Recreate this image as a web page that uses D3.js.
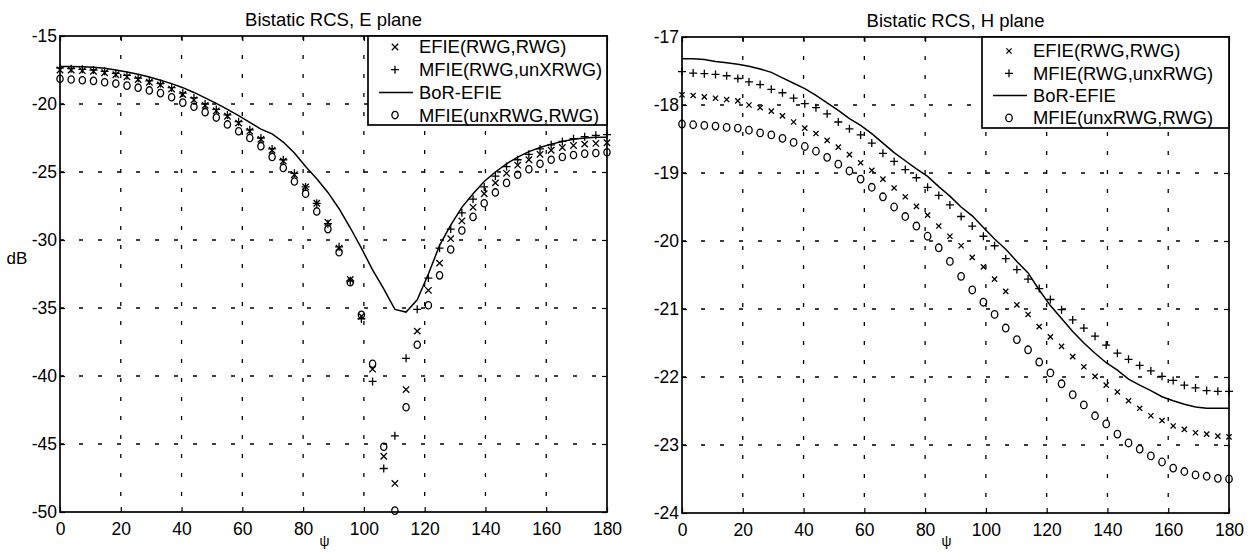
<!DOCTYPE html>
<html><head><meta charset="utf-8">
<script src="https://cdn.jsdelivr.net/npm/d3@7/dist/d3.min.js"></script>
<style>
body{margin:0;background:#fff}
text{font-family:"Liberation Sans",Arial,Helvetica,sans-serif;fill:#000}
</style>
</head><body>
<svg id="c" width="1259" height="552"></svg>
<script>
// ---------- data ----------
const angles = [0,3.67,7.35,11.02,14.69,18.37,22.04,25.71,29.39,33.06,36.73,40.41,44.08,47.76,51.43,55.10,58.78,62.45,66.12,69.80,73.47,77.14,80.82,84.49,88.16,91.84,95.51,99.18,102.86,106.53,110.20,113.88,117.55,121.22,124.90,128.57,132.24,135.92,139.59,143.27,146.94,150.61,154.29,157.96,161.63,165.31,168.98,172.65,176.33,180];

// E plane
const eBoR   = [-17.25,-17.25,-17.27,-17.3,-17.38,-17.5,-17.65,-17.82,-18.02,-18.25,-18.5,-18.8,-19.15,-19.55,-19.95,-20.4,-20.85,-21.35,-21.85,-22.2,-22.8,-23.6,-24.6,-25.5,-26.5,-27.7,-29.1,-30.6,-32.2,-33.6,-35.1,-35.3,-34.4,-32.5,-30.4,-28.9,-27.6,-26.6,-25.7,-25.0,-24.4,-23.9,-23.5,-23.2,-22.95,-22.75,-22.6,-22.5,-22.45,-22.45];
const eEFIE  = [-17.5,-17.5,-17.55,-17.6,-17.7,-17.85,-18.0,-18.2,-18.4,-18.6,-18.9,-19.3,-19.7,-20.1,-20.5,-20.9,-21.4,-22.0,-22.6,-23.4,-24.2,-25.2,-26.1,-27.3,-28.7,-30.6,-32.9,-35.6,-39.5,-45.9,-47.9,-41.0,-36.7,-33.7,-31.7,-29.9,-28.6,-27.6,-26.6,-25.8,-25.1,-24.5,-24.1,-23.7,-23.4,-23.2,-23.05,-22.95,-22.9,-22.85];
const eMFIEa = [-17.35,-17.4,-17.45,-17.5,-17.6,-17.75,-17.9,-18.1,-18.3,-18.5,-18.8,-19.2,-19.55,-20.0,-20.4,-20.8,-21.3,-21.9,-22.5,-23.3,-24.1,-25.1,-26.1,-27.3,-28.8,-30.5,-33.0,-35.8,-40.4,-46.8,-44.4,-38.7,-35.1,-32.8,-30.6,-29.2,-28.0,-27.0,-26.1,-25.3,-24.6,-24.1,-23.7,-23.3,-23.0,-22.75,-22.55,-22.4,-22.3,-22.25];
const eMFIEb = [-18.15,-18.2,-18.25,-18.3,-18.4,-18.5,-18.65,-18.8,-19.0,-19.2,-19.5,-19.9,-20.2,-20.6,-21.0,-21.5,-22.0,-22.5,-23.1,-23.9,-24.7,-25.7,-26.6,-27.9,-29.2,-30.9,-33.1,-35.5,-39.1,-45.2,-49.9,-42.3,-37.7,-34.8,-32.6,-30.7,-29.3,-28.3,-27.3,-26.5,-25.8,-25.2,-24.8,-24.4,-24.1,-23.9,-23.75,-23.65,-23.6,-23.55];

// H plane
const hBoR   = [-17.32,-17.32,-17.33,-17.36,-17.38,-17.4,-17.43,-17.47,-17.52,-17.6,-17.68,-17.76,-17.86,-17.97,-18.08,-18.2,-18.3,-18.42,-18.56,-18.7,-18.82,-18.94,-19.05,-19.2,-19.34,-19.5,-19.63,-19.8,-19.97,-20.12,-20.3,-20.47,-20.72,-20.95,-21.14,-21.33,-21.5,-21.65,-21.79,-21.9,-22.03,-22.12,-22.2,-22.29,-22.35,-22.4,-22.44,-22.46,-22.46,-22.46];
const hEFIE  = [-17.85,-17.86,-17.88,-17.9,-17.92,-17.94,-18.0,-18.04,-18.09,-18.16,-18.25,-18.34,-18.42,-18.52,-18.62,-18.73,-18.85,-18.96,-19.09,-19.22,-19.35,-19.49,-19.62,-19.78,-19.93,-20.07,-20.24,-20.38,-20.56,-20.74,-20.94,-21.08,-21.26,-21.41,-21.55,-21.7,-21.85,-21.99,-22.12,-22.22,-22.35,-22.46,-22.57,-22.64,-22.72,-22.77,-22.82,-22.84,-22.87,-22.88];
const hMFIEa = [-17.51,-17.53,-17.54,-17.55,-17.57,-17.61,-17.66,-17.7,-17.77,-17.82,-17.9,-17.98,-18.04,-18.13,-18.25,-18.35,-18.44,-18.56,-18.71,-18.83,-18.95,-19.07,-19.21,-19.33,-19.47,-19.64,-19.78,-19.93,-20.07,-20.26,-20.42,-20.56,-20.7,-20.86,-21.01,-21.16,-21.28,-21.4,-21.53,-21.65,-21.74,-21.83,-21.91,-21.99,-22.05,-22.12,-22.16,-22.2,-22.21,-22.21];
const hMFIEb = [-18.28,-18.29,-18.3,-18.31,-18.33,-18.34,-18.37,-18.41,-18.44,-18.49,-18.55,-18.61,-18.68,-18.77,-18.87,-18.97,-19.09,-19.21,-19.35,-19.5,-19.64,-19.78,-19.93,-20.1,-20.3,-20.52,-20.72,-20.9,-21.08,-21.28,-21.45,-21.6,-21.78,-21.94,-22.1,-22.26,-22.41,-22.57,-22.69,-22.84,-22.97,-23.06,-23.16,-23.25,-23.34,-23.39,-23.44,-23.46,-23.49,-23.5];

const xTicks  = [0,20,40,60,80,100,120,140,160,180];
const eYTicks = [-15,-20,-25,-30,-35,-40,-45,-50];
const hYTicks = [-17,-18,-19,-20,-21,-22,-23,-24];
const eLegend = ["EFIE(RWG,RWG)","MFIE(RWG,unXRWG)","BoR-EFIE","MFIE(unxRWG,RWG)"];
const hLegend = ["EFIE(RWG,RWG)","MFIE(RWG,unxRWG)","BoR-EFIE","MFIE(unxRWG,RWG)"];
const titles  = ["Bistatic RCS, E plane","Bistatic RCS, H plane"];

// ---------- drawing ----------
const svg = d3.select('#c');
const FS_TICK = 17.5, FS_LEG = 18.4, FS_TITLE = 18.5;
const plain = d => String(d);   // hyphen-minus like the original

function marker(sel, type, s) {
  if (type === 'x') {
    sel.append('path').attr('d', `M${-s},${-s}L${s},${s}M${-s},${s}L${s},${-s}`)
      .attr('stroke','#000').attr('stroke-width',1.3).attr('fill','none');
  } else if (type === '+') {
    sel.append('path').attr('d', `M${-s-0.5},0L${s+0.5},0M0,${-s-0.5}L0,${s+0.5}`)
      .attr('stroke','#000').attr('stroke-width',1.3).attr('fill','none');
  } else {
    sel.append('ellipse').attr('rx',s*0.92).attr('ry',s*1.08)
      .attr('stroke','#000').attr('stroke-width',1.3).attr('fill','none');
  }
}

function panel(o) {
  const x = d3.scaleLinear().domain([0,180]).range([o.x0,o.x1]);
  const y = d3.scaleLinear().domain([o.ymin,o.ymax]).range([o.y1,o.y0]);
  const g = svg.append('g');

  // grid
  g.append('g').selectAll('line').data(xTicks.slice(1,-1)).join('line')
    .attr('x1',d=>x(d)).attr('x2',d=>x(d)).attr('y1',o.y0).attr('y2',o.y1)
    .attr('stroke','#000').attr('stroke-width',1.3).attr('stroke-dasharray','4,15');
  g.append('g').selectAll('line').data(o.yTicks.slice(1,-1)).join('line')
    .attr('x1',o.x0).attr('x2',o.x1).attr('y1',d=>y(d)).attr('y2',d=>y(d))
    .attr('stroke','#000').attr('stroke-width',1.3).attr('stroke-dasharray','4,15');

  // line series
  const line = d3.line().x((d,i)=>x(angles[i])).y(d=>y(d));
  g.append('path').datum(o.bor).attr('d',line)
    .attr('fill','none').attr('stroke','#000').attr('stroke-width',1.5);

  // marker series
  const series = [[o.efie,'x',o.ms[0]],[o.mfa,'+',o.ms[1]],[o.mfb,'o',o.ms[2]]];
  series.forEach(([vals,type,s])=>{
    g.append('g').selectAll('g').data(vals).join('g')
      .attr('transform',(d,i)=>`translate(${x(angles[i])},${y(d)})`)
      .each(function(){ marker(d3.select(this), type, s); });
  });

  // axes (ticks inward)
  const ax = (gen, tr) => {
    const a = g.append('g').attr('transform',tr).call(gen);
    a.select('.domain').remove();
    a.selectAll('line').attr('stroke','#000').attr('stroke-width',1.2);
    a.selectAll('text').style('font-size',FS_TICK+'px').style('font-family','"Liberation Sans",Arial,sans-serif');
    return a;
  };
  ax(d3.axisBottom(x).tickValues(xTicks).tickFormat(plain).tickSizeInner(-5).tickSizeOuter(0).tickPadding(11), `translate(0,${o.y1})`);
  ax(d3.axisTop(x).tickValues(xTicks).tickFormat('').tickSizeInner(-5).tickSizeOuter(0), `translate(0,${o.y0})`);
  ax(d3.axisLeft(y).tickValues(o.yTicks).tickFormat(plain).tickSizeInner(-5).tickSizeOuter(0).tickPadding(3), `translate(${o.x0},0)`);
  ax(d3.axisRight(y).tickValues(o.yTicks).tickFormat('').tickSizeInner(-5).tickSizeOuter(0), `translate(${o.x1},0)`);

  // frame
  g.append('rect').attr('x',o.x0).attr('y',o.y0).attr('width',o.x1-o.x0).attr('height',o.y1-o.y0)
    .attr('fill','none').attr('stroke','#000').attr('stroke-width',1.7);

  // legend
  const L = o.leg;
  const lg = g.append('g');
  lg.append('rect').attr('x',L.x).attr('y',o.y0).attr('width',o.x1-L.x).attr('height',L.h)
    .attr('fill','#fff').attr('stroke','#000').attr('stroke-width',1.7);
  const types = ['x','+','line','o'];
  const ms = [o.ms[0],o.ms[1],0,o.ms[2]];
  o.labels.forEach((lab,i)=>{
    const cy = o.y0 + L.first + i*L.step;
    const mx = L.x + L.mk;
    if (types[i]==='line') {
      lg.append('line').attr('x1',L.x+L.mk-16).attr('x2',L.x+L.mk+18).attr('y1',cy).attr('y2',cy)
        .attr('stroke','#000').attr('stroke-width',1.5);
    } else {
      const mg = lg.append('g').attr('transform',`translate(${mx},${cy})`);
      marker(mg, types[i], ms[i]);
    }
    lg.append('text').attr('x',L.x+L.tx).attr('y',cy).attr('dy','0.35em')
      .style('font-size',FS_LEG+'px').text(lab);
  });

  // title and axis labels
  g.append('text').attr('x',(o.x0+o.x1)/2).attr('y',o.y0-16).attr('dy','0.35em')
    .attr('text-anchor','middle').style('font-size',FS_TITLE+'px').text(o.title);
  g.append('text').attr('x',x(87)).attr('y',546)
    .attr('text-anchor','middle').style('font-size','14px').text('ψ');
  if (o.ylabel) {
    g.append('text').attr('x',o.x0-43).attr('y',y(-31.3)).attr('dy','0.35em')
      .attr('text-anchor','middle').style('font-size','17px').text(o.ylabel);
  }
}

panel({x0:60,x1:607,y0:36,y1:512,ymin:-50,ymax:-15,yTicks:eYTicks,
  bor:eBoR,efie:eEFIE,mfa:eMFIEa,mfb:eMFIEb,ms:[3.2,3.5,3.4],
  labels:eLegend,title:titles[0],ylabel:'dB',
  leg:{x:368,h:89,first:11,step:22.7,mk:27,tx:51}});
panel({x0:682,x1:1229,y0:37,y1:513,ymin:-24,ymax:-17,yTicks:hYTicks,
  bor:hBoR,efie:hEFIE,mfa:hMFIEa,mfb:hMFIEb,ms:[2.6,3.5,3.5],
  labels:hLegend,title:titles[1],ylabel:null,
  leg:{x:982,h:91,first:14,step:22.3,mk:27,tx:51}});
</script>
</body></html>
